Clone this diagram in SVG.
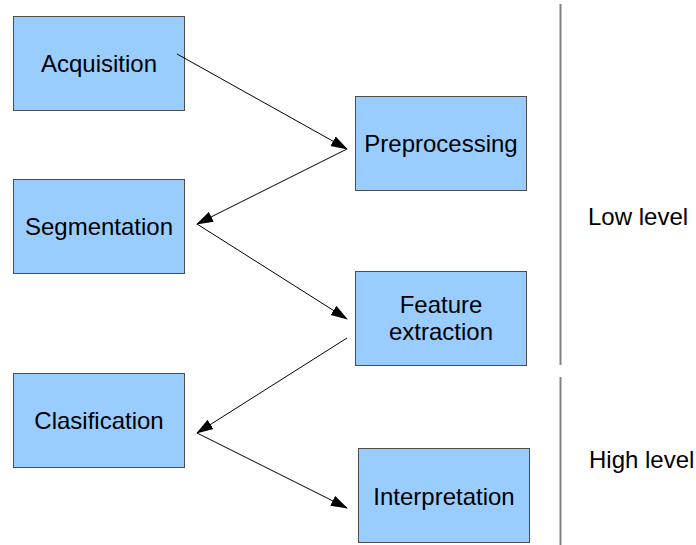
<svg xmlns="http://www.w3.org/2000/svg" width="696" height="545" viewBox="0 0 696 545">
<style>
.box{fill:#99ccff;stroke:#4d4d4d;stroke-width:1}
.t{font-family:"Liberation Sans",Arial,sans-serif;font-size:24px;fill:#000;text-anchor:middle}
.l{font-family:"Liberation Sans",Arial,sans-serif;font-size:24px;fill:#000}
.c{stroke:#000;stroke-width:1;fill:none;marker-end:url(#ah)}
.sep{stroke:#808080;stroke-width:2}
</style>
<defs>
<marker id="ah" markerWidth="17" markerHeight="12" refX="16" refY="6" orient="auto" markerUnits="userSpaceOnUse">
<path d="M0,0.5 L17,6 L0,11.5 Z" fill="#000"/>
</marker>
</defs>
<rect width="696" height="545" fill="#fff"/>
<g id="acquisition"><rect class="box" x="13.5" y="16.5" width="171" height="94"/><text class="t" x="99" y="72">Acquisition</text></g>
<g id="segmentation"><rect class="box" x="13.5" y="179.5" width="171" height="94"/><text class="t" x="99" y="235">Segmentation</text></g>
<g id="clasification"><rect class="box" x="13.5" y="373.5" width="171" height="94"/><text class="t" x="99" y="429">Clasification</text></g>
<g id="preprocessing"><rect class="box" x="355.5" y="96.5" width="171" height="94"/><text class="t" x="441" y="152">Preprocessing</text></g>
<g id="feature"><rect class="box" x="355.5" y="271.5" width="171" height="94"/><text class="t" x="441" y="313">Feature</text><text class="t" x="441" y="340">extraction</text></g>
<g id="interpretation"><rect class="box" x="358.5" y="448.5" width="171" height="94"/><text class="t" x="444" y="505">Interpretation</text></g>
<g id="levels">
<line class="sep" x1="560.5" y1="4" x2="560.5" y2="365"/>
<line class="sep" x1="560.5" y1="377" x2="560.5" y2="545"/>
<text class="l" x="588" y="225">Low level</text>
<text class="l" x="589" y="468">High level</text>
</g>
<g id="connectors">
<line class="c" x1="177" y1="54" x2="347" y2="149"/>
<line class="c" x1="347" y1="149" x2="197" y2="224"/>
<line class="c" x1="197" y1="224" x2="347" y2="319"/>
<line class="c" x1="347" y1="338" x2="197" y2="433"/>
<line class="c" x1="197" y1="433" x2="347" y2="508"/>
</g>
</svg>
